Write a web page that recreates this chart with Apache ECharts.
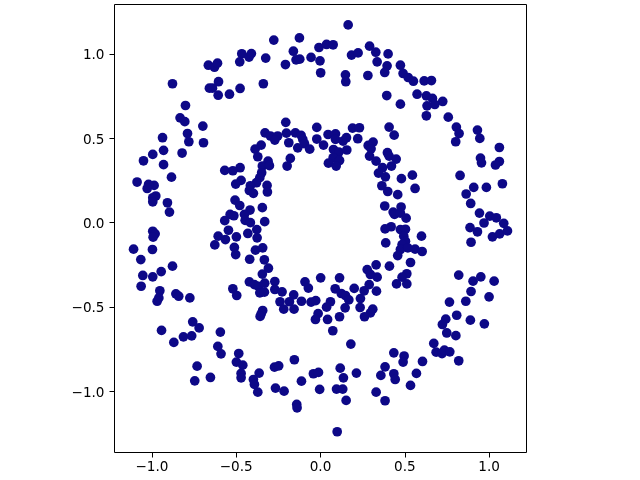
<!DOCTYPE html>
<html><head><meta charset="utf-8">
<style>html,body{margin:0;padding:0;background:#fff}#c{width:640px;height:480px}</style>
<script src="https://cdn.jsdelivr.net/npm/echarts@6/dist/echarts.min.js"></script>
</head><body><div id="c"></div>
<script>
const tickValues = [-1, -0.5, 0, 0.5, 1];
const outerPoints = [
[-0.878,0.823],[-0.801,0.694],[-0.665,0.933],[-0.629,0.921],[-0.611,0.945],[-0.605,0.835],[-0.659,0.797],[-0.641,0.797],[-0.607,0.755],[-0.540,0.761],[-0.477,0.795],[-0.339,0.823],[-0.479,0.953],[-0.467,1.001],[-0.424,0.981],[-0.410,1.002],[-0.325,0.975],[-0.277,1.082],[-0.208,0.937],[-0.161,1.016],[-0.145,0.965],[-0.123,0.969],[-0.125,1.095],[-0.056,0.979],[-0.009,1.038],[-0.003,0.959],[0.001,0.888],
[0.164,1.172],[0.036,1.056],[0.075,1.054],[0.184,0.993],[0.223,1.006],[0.291,1.046],[0.328,1.010],[0.401,1.000],[0.336,0.953],[0.395,0.929],[0.381,0.890],[0.474,0.933],[0.490,0.884],[0.520,0.860],[0.551,0.838],[0.615,0.840],[0.658,0.842],[0.148,0.876],[0.150,0.835],[0.281,0.872],[0.393,0.753],[0.474,0.702],[0.573,0.761],[0.628,0.751],[0.664,0.736],[0.725,0.718],[0.678,0.700],[0.632,0.692],[0.628,0.633],[0.758,0.625],
[-0.833,0.621],[-0.805,0.598],[-0.698,0.572],[-0.789,0.528],[-0.781,0.479],[-0.694,0.473],[-0.937,0.503],[-0.931,0.428],[-0.995,0.404],[-1.050,0.366],[-0.821,0.412],[-0.931,0.343],[-0.884,0.269],[-1.088,0.240],[-0.987,0.220],[-1.020,0.226],[-1.028,0.202],[-0.977,0.157],[-0.995,0.147],[-0.995,0.123],[-0.908,0.117],[-0.896,0.062],
[0.806,0.566],[0.822,0.528],[0.802,0.479],[0.931,0.548],[0.945,0.499],[1.061,0.445],[0.949,0.382],[0.955,0.354],[1.061,0.362],[1.038,0.341],[0.828,0.279],[1.079,0.230],[0.909,0.208],[0.984,0.208],[0.864,0.169],[0.891,0.113],[0.943,0.056],[1.004,0.038],[1.043,0.028],[0.970,-0.003],[1.087,-0.005],[0.887,-0.030],[0.931,-0.055],[1.020,-0.085],[1.063,-0.067],[1.109,-0.050],[0.893,-0.117],
[-0.995,-0.052],[-0.981,-0.067],[-0.993,-0.087],[-1.109,-0.158],[-0.997,-0.160],[-1.066,-0.220],[-0.878,-0.259],[-0.945,-0.291],[-1.054,-0.314],[-0.995,-0.322],[-1.064,-0.378],[-0.953,-0.405],[-0.959,-0.447],[-0.969,-0.467],[-0.858,-0.423],[-0.841,-0.437],[-0.775,-0.447],[-0.943,-0.640],[-0.758,-0.589],[-0.720,-0.625],[-0.813,-0.678],[-0.764,-0.672],[-0.594,-0.650],
[0.820,-0.312],[0.905,-0.348],[0.951,-0.322],[1.030,-0.348],[0.893,-0.409],[1.000,-0.441],[0.765,-0.472],[0.862,-0.467],[0.808,-0.550],[0.743,-0.573],[0.723,-0.605],[0.889,-0.579],[0.972,-0.601],[0.749,-0.655],[0.803,-0.671],
[-0.870,-0.711],[-0.609,-0.735],[-0.590,-0.779],[-0.732,-0.852],[-0.746,-0.939],[-0.653,-0.919],[-0.485,-0.777],[-0.499,-0.828],[-0.461,-0.846],[-0.471,-0.895],[-0.471,-0.921],[-0.364,-0.893],[-0.398,-0.931],[-0.392,-0.960],[-0.372,-1.006],[-0.273,-0.858],[-0.248,-0.850],[-0.155,-0.814],[-0.267,-0.982],[-0.216,-1.000],[-0.113,-0.941],[-0.042,-0.897],[-0.012,-0.889],[-0.005,-0.990],[-0.141,-1.079],[-0.139,-1.099],
[0.180,-0.721],[0.672,-0.717],[0.686,-0.769],[0.721,-0.777],[0.735,-0.757],[0.767,-0.767],[0.820,-0.820],[0.605,-0.824],[0.435,-0.773],[0.496,-0.792],[0.490,-0.828],[0.383,-0.856],[0.358,-0.907],[0.435,-0.897],[0.443,-0.931],[0.569,-0.895],[0.534,-0.966],[0.330,-1.006],[0.383,-1.057],[0.117,-0.864],[0.136,-0.921],[0.213,-0.893],[0.095,-0.988],[0.132,-0.988],[0.152,-1.055],[0.099,-1.241]
];
const innerPoints = [
[-0.206,0.594],[-0.202,0.530],[-0.329,0.532],[-0.297,0.513],[-0.254,0.513],[-0.271,0.489],[-0.149,0.532],[-0.115,0.517],[-0.022,0.564],[-0.022,0.495],[-0.188,0.473],[-0.105,0.493],[-0.095,0.467],[-0.135,0.443],[-0.064,0.435],[-0.179,0.380],[-0.198,0.335],[-0.352,0.459],[-0.388,0.435],[-0.372,0.390],[-0.311,0.364],[-0.345,0.335],[-0.303,0.337],[-0.349,0.295],[-0.360,0.266],[-0.380,0.236],[-0.416,0.218],[-0.477,0.325],[-0.520,0.307],[-0.568,0.309],[-0.471,0.250],[-0.503,0.228],[-0.317,0.220],[-0.315,0.181],[-0.422,0.190],[-0.398,0.173],[-0.507,0.133],[-0.479,0.101],[-0.345,0.088],[-0.418,0.074],[-0.451,0.048],[-0.536,0.048],[-0.514,0.040],[-0.568,0.011],[-0.447,0.013],[-0.416,-0.001],[-0.331,0.005],
[0.407,0.566],[0.437,0.518],[0.190,0.560],[0.231,0.562],[0.221,0.497],[0.045,0.522],[0.089,0.526],[0.089,0.493],[0.134,0.483],[0.154,0.503],[0.018,0.459],[0.077,0.433],[0.109,0.418],[0.156,0.430],[0.075,0.384],[0.113,0.368],[0.047,0.352],[0.093,0.335],[0.312,0.477],[0.283,0.457],[0.300,0.437],[0.291,0.394],[0.330,0.364],[0.397,0.414],[0.407,0.394],[0.449,0.376],[0.421,0.335],[0.368,0.325],[0.344,0.293],[0.385,0.271],[0.480,0.260],[0.545,0.281],[0.364,0.218],[0.399,0.184],[0.561,0.202],[0.458,0.165],[0.381,0.098],[0.478,0.092],[0.431,0.062],[0.439,0.048],[0.474,0.056],[0.508,0.026],[0.419,-0.025],
[-0.546,-0.046],[-0.607,-0.081],[-0.564,-0.101],[-0.499,-0.085],[-0.627,-0.133],[-0.431,-0.065],[-0.378,-0.042],[-0.376,-0.091],[-0.511,-0.148],[-0.503,-0.190],[-0.386,-0.164],[-0.343,-0.150],[-0.420,-0.218],[-0.333,-0.221],[-0.309,-0.271],[-0.345,-0.306],[-0.422,-0.352],[-0.392,-0.368],[-0.368,-0.378],[-0.331,-0.360],[-0.360,-0.417],[-0.333,-0.413],[-0.271,-0.350],[-0.271,-0.397],[-0.228,-0.411],[-0.520,-0.393],[-0.497,-0.433],[-0.159,-0.429],[-0.092,-0.352],[-0.072,-0.389],[0.001,-0.328],[-0.240,-0.470],[-0.184,-0.470],[-0.113,-0.467],[-0.056,-0.472],[-0.028,-0.463],[-0.218,-0.514],[-0.157,-0.514],[-0.343,-0.522],[-0.352,-0.542],[-0.358,-0.557],[-0.014,-0.540],[-0.030,-0.575],
[0.113,-0.328],[0.087,-0.393],[0.123,-0.421],[0.148,-0.433],[0.168,-0.459],[0.200,-0.391],[0.237,-0.451],[0.259,-0.405],[0.289,-0.368],[0.332,-0.407],[0.336,-0.324],[0.296,-0.308],[0.277,-0.279],[0.330,-0.251],[0.146,-0.506],[0.235,-0.504],[0.059,-0.470],[0.036,-0.502],[0.042,-0.575],[0.113,-0.559],[0.073,-0.642],[0.310,-0.514],[0.296,-0.536],[0.261,-0.559],[0.383,-0.038],[0.474,-0.042],[0.504,-0.040],[0.599,-0.081],[0.387,-0.121],[0.494,-0.081],[0.504,-0.111],[0.484,-0.131],[0.474,-0.160],[0.458,-0.196],[0.518,-0.150],[0.561,-0.158],[0.603,-0.172],[0.409,-0.259],[0.534,-0.237],[0.512,-0.304],[0.484,-0.324],[0.451,-0.364],[0.512,-0.364]
];
const fmt = v => {
  const s = Math.abs(v).toFixed(1);
  return v < 0 ? '\u2212' + s : s;
};
const axisCommon = {
  type: 'value',
  scale: true,
  splitLine: { show: false },
  axisLine: { show: false, onZero: false },
  axisTick: { show: true, inside: false, length: 5, customValues: tickValues, lineStyle: { color: '#000', width: 1 } },
  axisLabel: { show: true, customValues: tickValues, formatter: fmt, color: '#000', fontFamily: 'DejaVu Sans', fontSize: 13.6, margin: 8, hideOverlap: false, showMinLabel: true, showMaxLabel: true }
};
const chart = echarts.init(document.getElementById('c'), null, { renderer: 'canvas' });
chart.setOption({
  animation: false,
  backgroundColor: '#fff',
  grid: { left: 114.5, right: 113.5, top: 4.5, bottom: 27.5, show: true, borderColor: '#000', borderWidth: 1, backgroundColor: '#fff' },
  xAxis: Object.assign({}, axisCommon, { position: 'bottom', min: -1.222, max: 1.222 }),
  yAxis: Object.assign({}, axisCommon, { position: 'left', min: -1.364, max: 1.293,
    axisLabel: Object.assign({}, axisCommon.axisLabel, { margin: 10, verticalAlign: 'top', lineHeight: 4 }) }),
  series: [{
    type: 'scatter',
    data: outerPoints.concat(innerPoints),
    symbol: 'circle',
    symbolSize: 9.7,
    itemStyle: { color: '#0d0887', opacity: 1 }
  }]
});
</script></body></html>
